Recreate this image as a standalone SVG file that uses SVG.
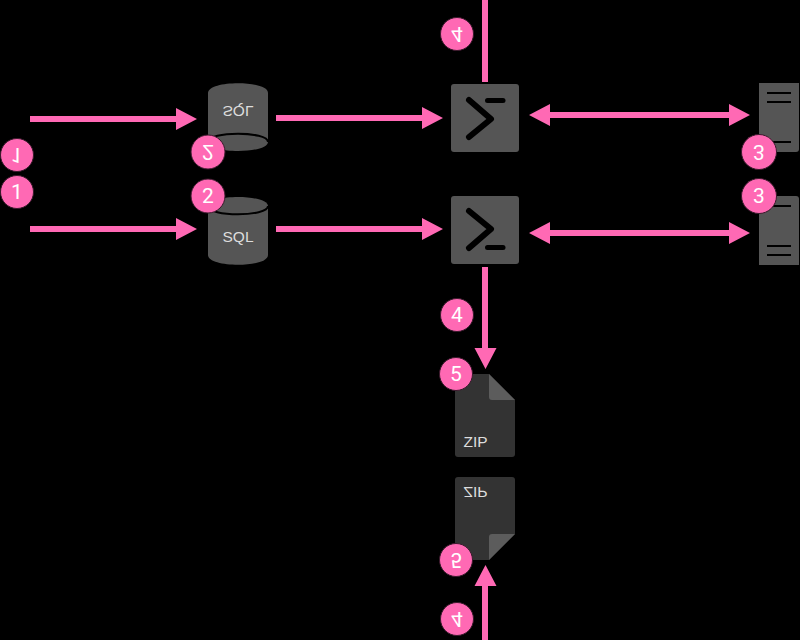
<svg xmlns="http://www.w3.org/2000/svg" width="800" height="640" viewBox="0 0 800 640">
  <style>
    .wire { stroke: #ff69b4; stroke-width: 6; fill: none; }
    .tip { fill: #ff69b4; }
    .body { fill: #555555; }
    .ink { stroke: #000000; fill: none; stroke-linecap: round; stroke-linejoin: round; }
    .pill { fill: #ff69b4; stroke: #3a1a2c; stroke-width: 1; }
    .num { font-family: Roboto, "Liberation Sans", Arial, sans-serif; font-size: 21px; fill: #ffffff; text-anchor: middle; }
    .cap { font-family: "Liberation Sans", Arial, sans-serif; font-size: 15.500px; fill: #dddddd; text-anchor: middle; }
  </style>
  <defs>
    <g id="db">
      <path class="body" d="M208 206 C208 194 268 194 268 206 V255 C268 268 208 268 208 255 Z"/>
      <path d="M208 206 C208 217 268 217 268 206" fill="none" stroke="#000" stroke-width="2"/>
      <text class="cap" x="238" y="242">SQL</text>
    </g>
    <g id="shell">
      <rect class="body" x="451" y="196" width="68" height="68" rx="3"/>
      <path class="ink" stroke-width="6" d="M469 211 L491 229 L469 248"/>
      <path class="ink" stroke-width="5" d="M487.500 247.500 H503"/>
    </g>
    <g id="rack">
      <path class="body" d="M759 196 H796 Q799 196 799 199 V265 H759 Z"/>
      <path stroke="#000" stroke-width="2.200" fill="none" d="M767 206 H791 M767 246 H791 M767 255 H791"/>
    </g>
    <g id="archive">
      <path fill="#333333" d="M455 374 H489 L515 400 V454 Q515 457 512 457 H458 Q455 457 455 454 Z"/>
      <path fill="#5c5c5c" d="M489 374 L515 400 H492 Q489 400 489 397 Z"/>
      <text class="cap" x="475.500" y="447">ZIP</text>
    </g>
  </defs>
  <rect width="800" height="640" fill="#000000"/>

  <!-- Stored nodes: lower row upright, upper row reflected about y=174 -->
  <g id="db-lower"><use href="#db"/></g>
  <g id="db-upper" transform="matrix(1 0 0 -1 0 348)"><use href="#db"/></g>
  <g id="shell-lower"><use href="#shell"/></g>
  <g id="shell-upper" transform="matrix(1 0 0 -1 0 348)"><use href="#shell"/></g>
  <g id="rack-lower"><use href="#rack"/></g>
  <g id="rack-upper" transform="matrix(1 0 0 -1 0 348)"><use href="#rack"/></g>
  <g id="archive-lower"><use href="#archive"/></g>
  <g id="archive-upper" transform="matrix(1 0 0 -1 0 934)"><use href="#archive"/></g>

  <g id="connectors">
    <path class="wire" d="M30 229 H178 M276 229 H424 M548 233 H731 M485 267 V350"/>
    <path class="tip" d="M176 218 L197 229 L176 240 Z M422 218 L443 229 L422 240 Z M529 233 L550 222 V244 Z M729 222 L750 233 L729 244 Z M474.500 348 H496.500 L485.500 369 Z"/>
    <path class="wire" d="M30 119 H178 M276 118 H424 M548 115 H731 M485 82 V0 M485 640 V584"/>
    <path class="tip" d="M176 108 L197 119 L176 130 Z M422 107 L443 118 L422 129 Z M529 115 L550 104 V126 Z M729 104 L750 115 L729 126 Z M474.500 586 H496.500 L485.500 565 Z"/>
  </g>

  <g id="badge-1"><circle class="pill" cx="17" cy="192" r="16.500"/><text class="num" x="17" y="199">1</text></g>
  <g id="badge-1-flip" transform="matrix(1 0 0 -1 0 347)"><circle class="pill" cx="17" cy="192" r="16.500"/><text class="num" x="17" y="199">1</text></g>
  <g id="badge-2"><circle class="pill" cx="208" cy="196" r="17"/><text class="num" x="208" y="203">2</text></g>
  <g id="badge-2-flip" transform="matrix(1 0 0 -1 0 348)"><circle class="pill" cx="208" cy="196" r="17"/><text class="num" x="208" y="203">2</text></g>
  <g id="badge-3"><circle class="pill" cx="759" cy="196" r="17.500"/><text class="num" x="759" y="203">3</text></g>
  <g id="badge-3-flip" transform="matrix(1 0 0 -1 0 348)"><circle class="pill" cx="759" cy="196" r="17.500"/><text class="num" x="759" y="203">3</text></g>
  <g id="badge-4"><circle class="pill" cx="457" cy="315" r="16.500"/><text class="num" x="457" y="322">4</text></g>
  <g id="badge-4-top" transform="matrix(1 0 0 -1 0 349)"><circle class="pill" cx="457" cy="315" r="16.500"/><text class="num" x="457" y="322">4</text></g>
  <g id="badge-4-bottom" transform="matrix(1 0 0 -1 0 934)"><circle class="pill" cx="457" cy="315" r="16.500"/><text class="num" x="457" y="322">4</text></g>
  <g id="badge-5"><circle class="pill" cx="456" cy="374" r="16.500"/><text class="num" x="456" y="381">5</text></g>
  <g id="badge-5-flip" transform="matrix(1 0 0 -1 0 934)"><circle class="pill" cx="456" cy="374" r="16.500"/><text class="num" x="456" y="381">5</text></g>
</svg>
